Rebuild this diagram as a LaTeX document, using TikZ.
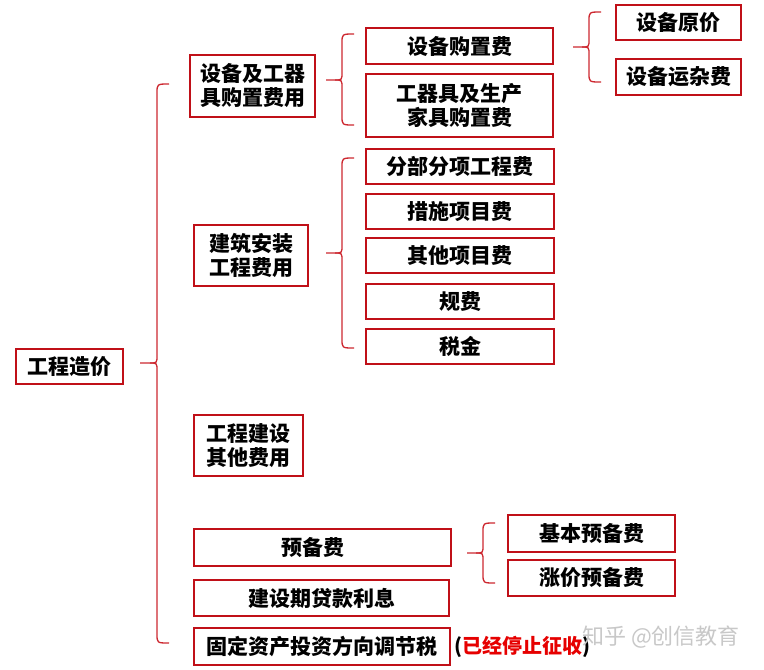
\documentclass[tikz,border=0pt]{standalone}
\usepackage{fontspec}
\setmainfont{Noto Sans CJK SC}
\definecolor{boxred}{RGB}{192,16,24}
\definecolor{bracered}{RGB}{205,40,48}
\definecolor{txtred}{RGB}{230,0,0}
\definecolor{wmgray}{RGB}{200,200,200}
\tikzset{
  box/.style={draw=boxred, line width=2.2pt, inner sep=0pt, align=center,
    font=\fontsize{21}{24}\selectfont\bfseries, text=black},
  bracel/.style={draw=bracered, line width=1.3pt},
}
\newcommand{\mybrace}[5]{%
  \draw[bracel] (#1+12,#2) .. controls (#1,#2) .. (#1,#2+9) -- (#1,#4-8) .. controls (#1,#4) .. (#1-7,#4) -- (#5,#4);
  \draw[bracel] (#1+12,#3) .. controls (#1,#3) .. (#1,#3-9) -- (#1,#4+8) .. controls (#1,#4) .. (#1-7,#4);
}
\begin{document}
\begin{tikzpicture}[x=1pt,y=-1pt]
\useasboundingbox[fill=white] (0,0) rectangle (764,670);

% root
\node[box, minimum width=107pt, minimum height=35pt] (root) at (69.5,366.5) {工程造价};

% level 1
\node[box, minimum width=125pt, minimum height=62pt] (a1) at (252.5,86) {设备及工器\\具购置费用};
\node[box, minimum width=114pt, minimum height=61pt] (a2) at (251,255.5) {建筑安装\\工程费用};
\node[box, minimum width=109pt, minimum height=61pt] (a3) at (248.5,445.5) {工程建设\\其他费用};
\node[box, minimum width=257pt, minimum height=37pt] (a4) at (322.5,547.5) {预备费\hspace*{20pt}};
\node[box, minimum width=255pt, minimum height=36pt] (a5) at (321.5,598) {建设期贷款利息};
\node[box, minimum width=256pt, minimum height=37pt] (a6) at (322,646.5) {固定资产投资方向调节税};
\node[anchor=west, font=\fontsize{20}{22}\selectfont\bfseries, inner sep=0pt] (note) at (454,647)
  {(\textcolor{txtred}{已经停止征收})};

% level 2
\node[box, minimum width=187pt, minimum height=36pt] (b1) at (459.5,46) {设备购置费};
\node[box, minimum width=187pt, minimum height=63pt] (b2) at (459.5,105.5) {工器具及生产\\家具购置费};
\node[box, minimum width=188pt, minimum height=35pt] (b3) at (460,166.5) {分部分项工程费};
\node[box, minimum width=188pt, minimum height=35pt] (b4) at (460,211.5) {措施项目费};
\node[box, minimum width=188pt, minimum height=35pt] (b5) at (460,255.5) {其他项目费};
\node[box, minimum width=188pt, minimum height=35pt] (b6) at (460,301.5) {规费};
\node[box, minimum width=188pt, minimum height=35pt] (b7) at (460,346.5) {税金};

% level 3
\node[box, minimum width=125pt, minimum height=35pt] (c1) at (678.5,22.5) {设备原价};
\node[box, minimum width=125pt, minimum height=36pt] (c2) at (678.5,77) {设备运杂费};
\node[box, minimum width=167pt, minimum height=37pt] (d1) at (591.5,533.5) {基本预备费};
\node[box, minimum width=167pt, minimum height=36pt] (d2) at (591.5,578) {涨价预备费};

% braces
\mybrace{157}{84}{643}{363}{140}
\mybrace{342}{34}{125}{80}{326}
\mybrace{342}{158}{348}{253}{326}
\mybrace{589}{12}{82}{47}{573}
\mybrace{483}{523}{583}{553}{467}

% watermark
\node[anchor=west, inner sep=0pt, text=wmgray, font=\fontsize{22}{24}\selectfont] (wm) at (582,637) {知乎 @创信教育};
\end{tikzpicture}
\end{document}
